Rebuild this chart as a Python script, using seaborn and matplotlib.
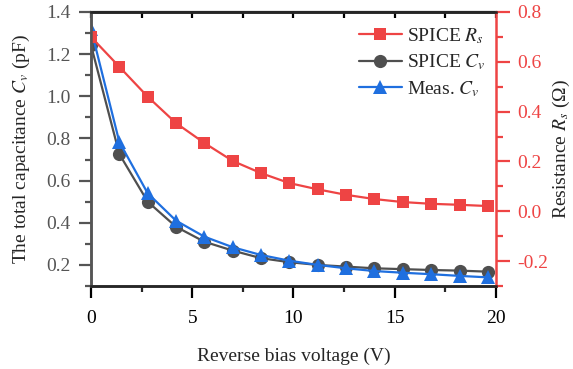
import numpy as np
import pandas as pd
import matplotlib
matplotlib.use("Agg")
import matplotlib.pyplot as plt
import seaborn as sns
from matplotlib.ticker import MultipleLocator, FormatStrFormatter

voltage = [0.0, 1.4, 2.8, 4.2, 5.6, 7.0, 8.4, 9.8, 11.2, 12.6, 14.0, 15.4, 16.8, 18.2, 19.6]
spice_rs = [0.70, 0.58, 0.46, 0.354, 0.274, 0.202, 0.153, 0.113, 0.088, 0.066, 0.049, 0.037, 0.030, 0.026, 0.021]
spice_cv = [1.243, 0.726, 0.50, 0.381, 0.310, 0.268, 0.232, 0.213, 0.200, 0.192, 0.184, 0.180, 0.176, 0.173, 0.168]
meas_cv = [1.32, 0.783, 0.54, 0.410, 0.334, 0.284, 0.247, 0.220, 0.200, 0.184, 0.171, 0.163, 0.156, 0.148, 0.141]

RED = "#EE4444"
GRAY = "#4F4F4F"
BLUE = "#1F6FDF"
AXGRAY = "#555555"

sns.set_theme(style="ticks")
plt.rcParams["font.family"] = ["Liberation Serif", "DejaVu Serif"]
plt.rcParams["mathtext.fontset"] = "stix"

df = pd.DataFrame({"V": voltage, "Rs": spice_rs, "Cs": spice_cv, "Cm": meas_cv})

fig = plt.figure(figsize=(5.73, 3.69), dpi=100)
ax = fig.add_axes([0.1588, 0.2249, 0.7068, 0.7426])
ax2 = ax.twinx()

sns.lineplot(data=df, x="V", y="Cs", ax=ax, color=GRAY, marker="o", markersize=9.5,
             markeredgewidth=0, linewidth=1.6, label="SPICE $C_v$", legend=False)
sns.lineplot(data=df, x="V", y="Cm", ax=ax, color=BLUE, marker="^", markersize=10,
             markeredgewidth=0, linewidth=1.6, label="Meas. $C_v$", legend=False)
sns.lineplot(data=df, x="V", y="Rs", ax=ax2, color=RED, marker="s", markersize=8.5,
             markeredgewidth=0, linewidth=1.6, label="SPICE $R_s$", legend=False)

ax.set_xlim(0, 20)
ax.set_ylim(0.1, 1.4)
ax2.set_ylim(-0.3, 0.8)

ax.xaxis.set_major_locator(MultipleLocator(5))
ax.xaxis.set_minor_locator(MultipleLocator(2.5))
ax.yaxis.set_major_locator(MultipleLocator(0.2))
ax.yaxis.set_minor_locator(MultipleLocator(0.1))
ax2.yaxis.set_major_locator(MultipleLocator(0.2))
ax2.yaxis.set_minor_locator(MultipleLocator(0.1))
ax.yaxis.set_major_formatter(FormatStrFormatter("%.1f"))
ax2.yaxis.set_major_formatter(FormatStrFormatter("%.1f"))

fs = 14
ax.tick_params(axis="x", which="major", direction="out", length=8.5, width=1.6, labelsize=fs,
               colors="black", top=False, pad=9)
ax.tick_params(axis="x", which="minor", direction="out", length=4.5, width=1.6, top=False)
ax.tick_params(axis="y", which="major", direction="out", length=8.5, width=1.6, labelsize=fs,
               colors=AXGRAY, labelcolor=AXGRAY, pad=6)
ax.tick_params(axis="y", which="minor", direction="out", length=4.5, width=1.6, colors=AXGRAY)
ax2.tick_params(axis="y", which="major", direction="out", length=10, width=1.6, labelsize=fs,
                colors=RED, pad=5)
ax2.tick_params(axis="y", which="minor", direction="out", length=5, width=1.6, colors=RED)

# top ticks inward
secx = ax.secondary_xaxis("top")
secx.xaxis.set_major_locator(MultipleLocator(2.5))
secx.tick_params(axis="x", direction="in", length=4.5, width=1.6, labeltop=False, colors="black")
secx.spines["top"].set_linewidth(1.6)

for s in ["left", "bottom", "top", "right"]:
    ax.spines[s].set_linewidth(1.8)
    ax2.spines[s].set_linewidth(1.8)
ax.spines["left"].set_color(AXGRAY)
ax2.spines["left"].set_color(AXGRAY)
ax2.spines["right"].set_color(RED)
ax.spines["right"].set_visible(False)

ax.set_xlabel("Reverse bias voltage (V)", fontsize=fs, labelpad=15)
ax.set_ylabel("The total capacitance $C_v$ (pF)", fontsize=fs, labelpad=10)
ax2.set_ylabel("Resistance $R_s$ (Ω)", fontsize=fs, labelpad=2)

h1, l1 = ax2.get_legend_handles_labels()
h2, l2 = ax.get_legend_handles_labels()
ax2.legend(h1 + h2, l1 + l2, loc="upper right", bbox_to_anchor=(1.0, 0.985), frameon=False,
           fontsize=fs, handlelength=2.2, handletextpad=0.3, labelspacing=0.35, borderaxespad=0.1)

fig.savefig("out.png", dpi=100)
